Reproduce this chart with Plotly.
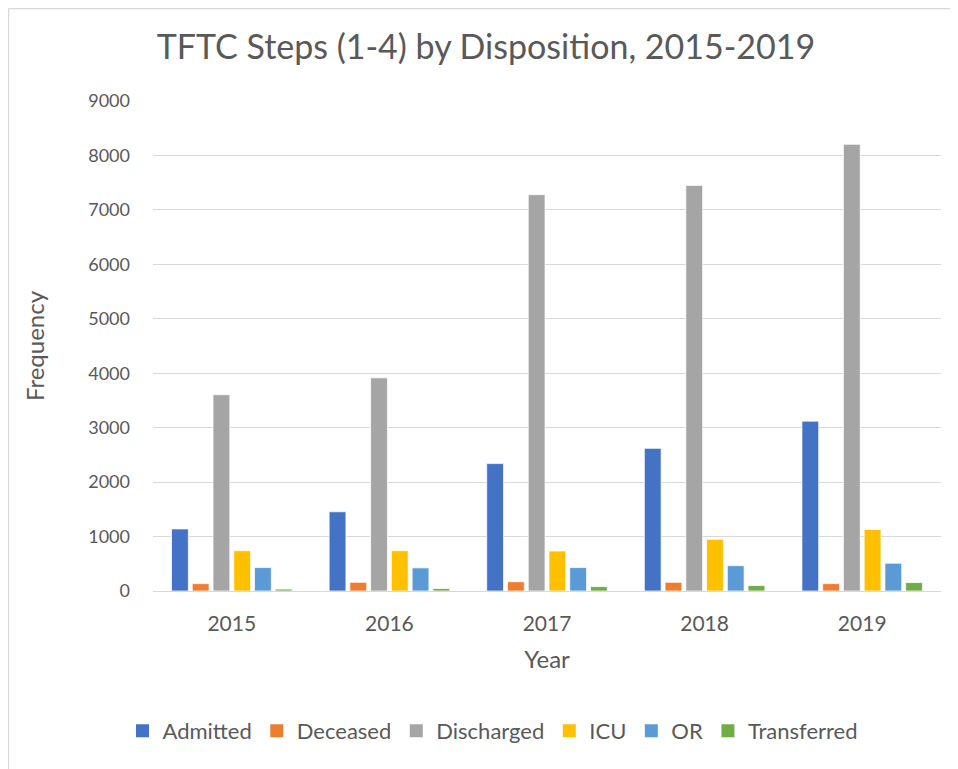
import plotly.graph_objects as go

years = ["2015", "2016", "2017", "2018", "2019"]
admitted = [1140, 1455, 2340, 2620, 3120]
deceased = [135, 160, 170, 160, 135]
discharged = [3605, 3915, 7280, 7450, 8205]
icu = [740, 740, 735, 950, 1130]
or_ = [430, 425, 430, 465, 510]
transferred = [35, 45, 80, 100, 155]

series_names = ["Admitted", "Deceased", "Discharged", "ICU", "OR", "Transferred"]
series_values = [admitted, deceased, discharged, icu, or_, transferred]
colors = ["#4472C4", "#ED7D31", "#A5A5A5", "#FFC000", "#5B9BD5", "#70AD47"]

FONT = "Lato, 'Open Sans', 'DejaVu Sans', sans-serif"
TXT = "#595959"

# page has an 8px body margin; work in page pixels and convert
OFF = 8
W, H = 958 - OFF, 769 - OFF
L, R, T, B = 153 - OFF, 941 - OFF, 101 - OFF, 591 - OFF

fig = go.Figure()
for name, vals, c in zip(series_names, series_values, colors):
    fig.add_trace(go.Bar(
        x=years, y=vals, name=name, legendgroup=name, showlegend=False,
        marker=dict(color=c, line=dict(color="white", width=0.75)),
    ))
# square legend keys like the original
for name, c in zip(series_names, colors):
    fig.add_trace(go.Scatter(
        x=[None], y=[None], mode="markers", name=name, legendgroup=name,
        marker=dict(symbol="square", size=13, color=c),
        hoverinfo="skip",
    ))

def px_x(p):
    return (p - OFF - L) / (R - L)

def px_y(p):
    return (B - (p - OFF)) / (B - T)

shapes = [
    dict(type="line", xref="paper", yref="paper",
         x0=px_x(8.5), x1=px_x(958), y0=px_y(8.6), y1=px_y(8.6),
         line=dict(color="#D9D9D9", width=1.2)),
    dict(type="line", xref="paper", yref="paper",
         x0=px_x(8.6), x1=px_x(8.6), y0=px_y(8.6), y1=px_y(769),
         line=dict(color="#D9D9D9", width=1.2)),
]

fig.update_layout(
    width=W, height=H,
    margin=dict(l=L, r=W - R, t=T, b=H - B, autoexpand=False),
    paper_bgcolor="white", plot_bgcolor="white",
    font=dict(family=FONT, color=TXT),
    title=dict(text="TFTC Steps (1-4) by Disposition, 2015-2019",
               x=px_x(486), xanchor="center", xref="paper",
               y=1 - (47 - OFF) / H, yanchor="middle",
               font=dict(size=34, color=TXT, family=FONT)),
    barmode="group", bargap=0.21, bargroupgap=0.19,
    xaxis=dict(
        type="category",
        showgrid=False, showline=True, linecolor="#D9D9D9", linewidth=1,
        ticks="", tickfont=dict(size=21, color=TXT), ticklabelstandoff=14,
        title=dict(text="Year", font=dict(size=24, color=TXT), standoff=16),
    ),
    yaxis=dict(
        range=[0, 9000], dtick=1000, showgrid=True, gridcolor="#D9D9D9",
        gridwidth=1, zeroline=False, showline=False, ticks="",
        tickfont=dict(size=18, color=TXT), ticklabelstandoff=22,
        title=dict(text="Frequency", font=dict(size=24, color=TXT), standoff=36),
    ),
    legend=dict(orientation="h", x=px_x(493), xanchor="center",
                y=px_y(731), yanchor="middle",
                font=dict(size=22, color=TXT), itemwidth=30,
                traceorder="normal"),
    shapes=shapes,
)

fig.write_html("out.html")
